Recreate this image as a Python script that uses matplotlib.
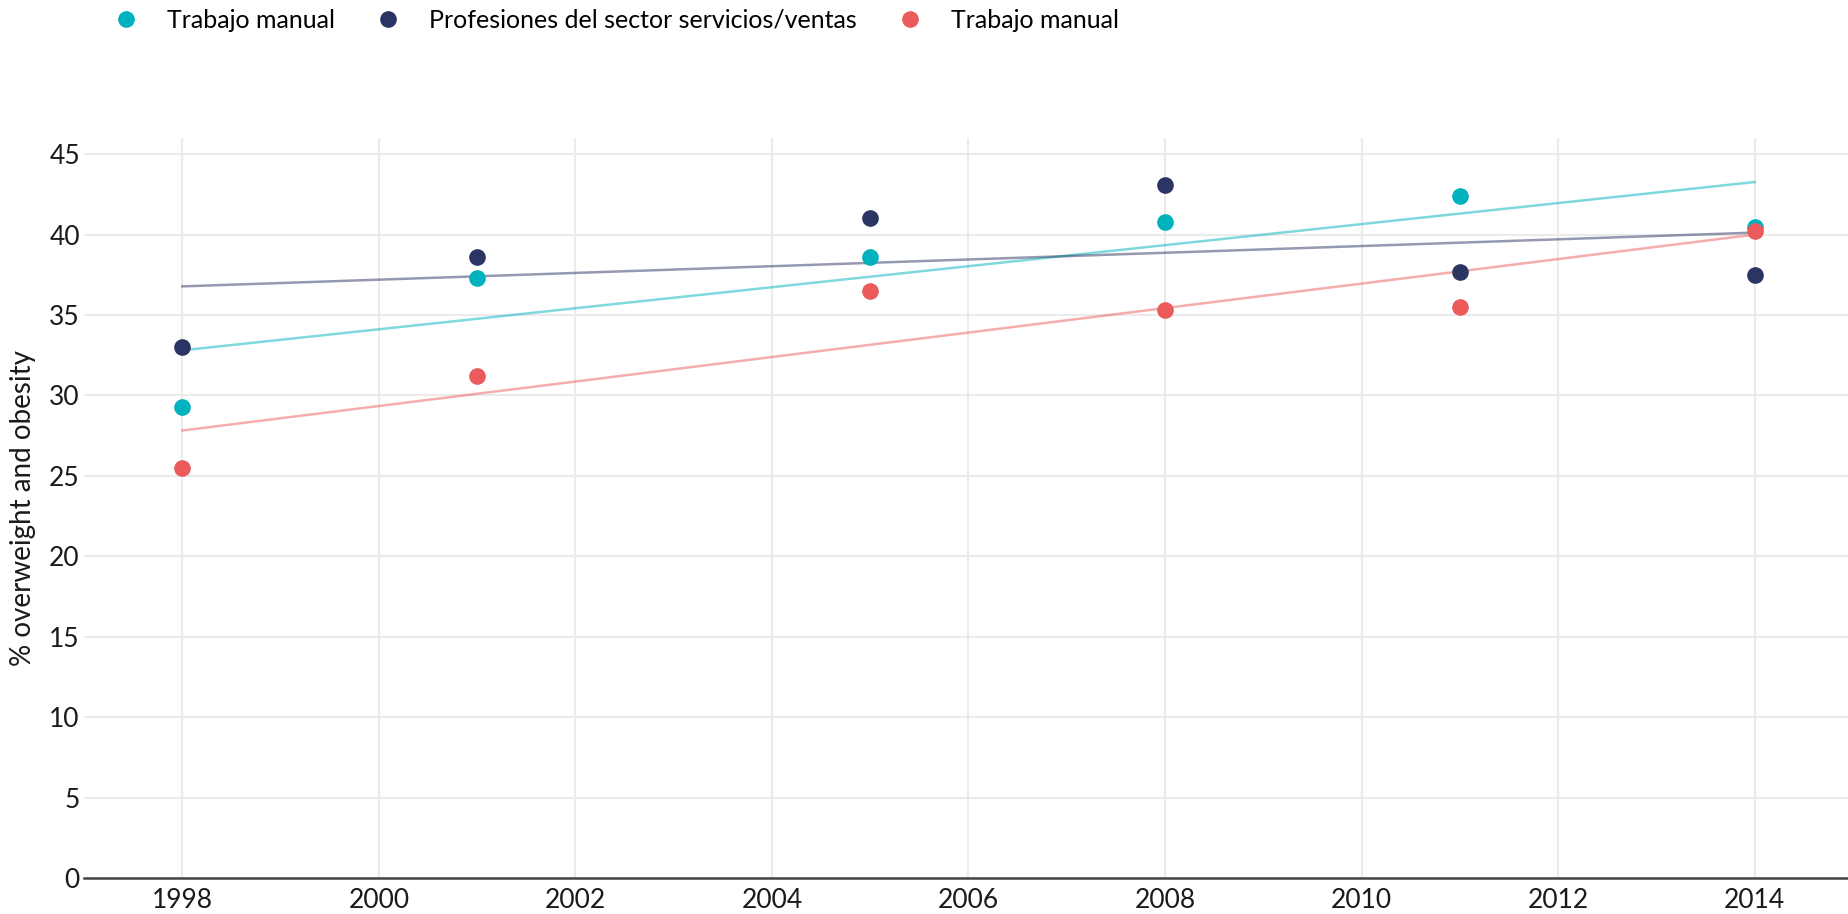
import matplotlib
matplotlib.use("Agg")
import matplotlib.pyplot as plt
import numpy as np

plt.rcParams['font.family'] = ['Lato', 'DejaVu Sans']

years = [1998, 2001, 2005, 2008, 2011, 2014]
labels = ["Trabajo manual", "Profesiones del sector servicios/ventas", "Trabajo manual"]
teal_vals = [29.3, 37.3, 38.6, 40.8, 42.4, 40.45]
navy_vals = [33.0, 38.6, 41.0, 43.1, 37.7, 37.5]
red_vals = [25.5, 31.2, 36.5, 35.3, 35.5, 40.2]
colors = ["#00B2BE", "#2B3563", "#EC5B5B"]
xticks = list(range(1998, 2015, 2))
yticks = list(range(0, 50, 5))

W, H = 1848, 914
fig = plt.figure(figsize=(W / 100, H / 100), dpi=100)
ax = fig.add_axes([84 / W, 0.0394, 1 - 84 / W, 0.8096])

handles = []
x = np.array(years, dtype=float)
for vals, col in zip([teal_vals, navy_vals, red_vals], colors):
    y = np.array(vals)
    slope, intercept = np.polyfit(x, y, 1)
    ax.plot(x, slope * x + intercept, color=col, alpha=0.5, lw=1.8, zorder=2)
for vals, col, lab in zip([teal_vals, navy_vals, red_vals], colors, labels):
    h, = ax.plot(years, vals, 'o', color=col, markersize=12, markeredgewidth=0, label=lab, zorder=3)
    handles.append(h)

ax.set_xlim(1997.0, 2014.95)
ax.set_ylim(0, 46)
ax.set_xticks(xticks)
ax.set_yticks(yticks)
ax.grid(True, color="#ebebeb", lw=1.5)
ax.set_axisbelow(True)
for s in ["top", "right", "left"]:
    ax.spines[s].set_visible(False)
ax.spines["bottom"].set_color("#444444")
ax.spines["bottom"].set_linewidth(1.8)
ax.tick_params(axis="both", length=0, labelsize=19, colors="#1a1a1a")
ax.tick_params(axis="x", pad=7)
ax.tick_params(axis="y", pad=3)
ax.set_ylabel("% overweight and obesity", fontsize=20, color="#1a1a1a")
ax.yaxis.set_label_coords((36 - 84) / (W - 84), 0.5)

fig.legend(handles=handles, loc="center left", bbox_to_anchor=(113.5 / W, 1 - 20 / H), ncol=3,
           frameon=False, fontsize=18, handletextpad=1.14, columnspacing=1.62,
           handlelength=1.0, borderpad=0, borderaxespad=0)

fig.savefig("out.png", dpi=100)
